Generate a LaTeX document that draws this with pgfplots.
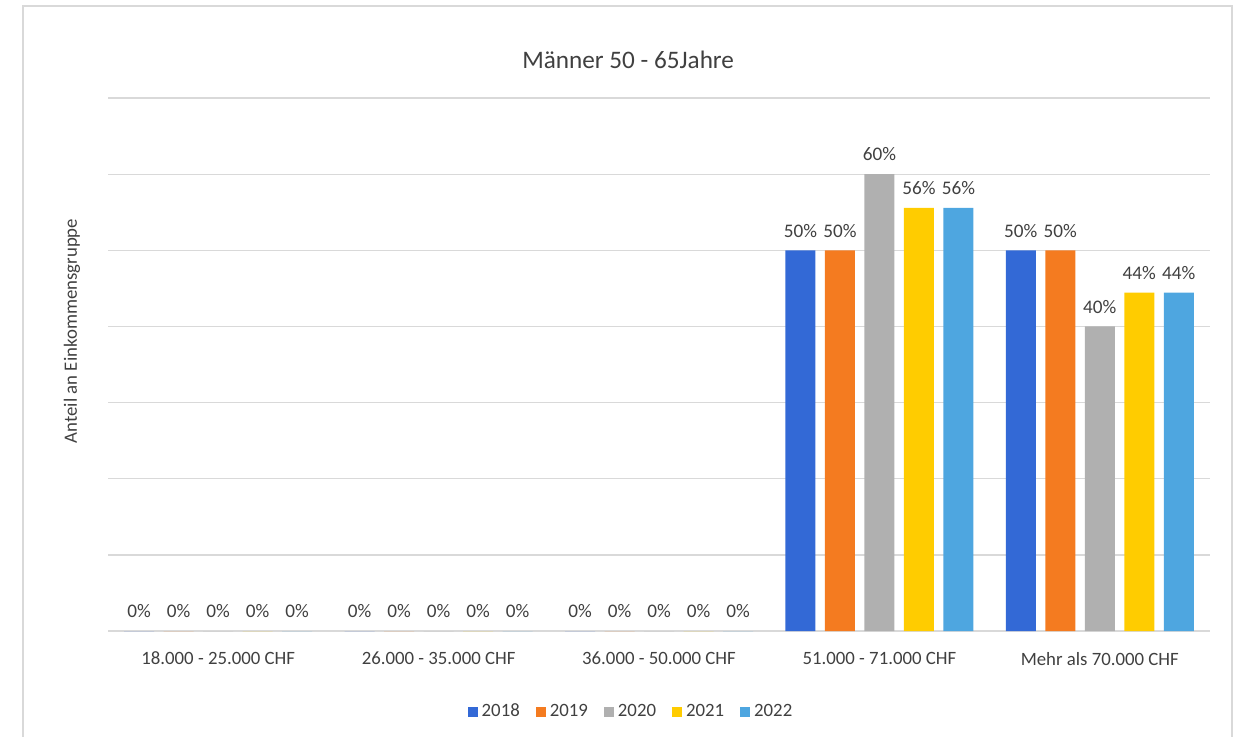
\documentclass[border=0pt]{standalone}
\usepackage{pgfplots}
\pgfplotsset{compat=1.18}
\usepackage{fontspec}
\setmainfont{Carlito}
\definecolor{c18}{HTML}{3369D6}
\definecolor{c19}{HTML}{F47B20}
\definecolor{c20}{HTML}{B0B0B0}
\definecolor{c21}{HTML}{FFCC00}
\definecolor{c22}{HTML}{4EA6E0}
\definecolor{txt}{HTML}{404040}
\definecolor{gridc}{HTML}{D9D9D9}
\begin{document}
\begin{tikzpicture}
\useasboundingbox (0,0) rectangle (617.5pt,368pt);
\draw[gridc, line width=0.75pt] (11.5pt,-5pt) rectangle (616pt,365pt);
\begin{axis}[
  at={(54pt,52.5pt)}, anchor=south west,
  scale only axis, width=551pt, height=266.5pt,
  ybar=4.75pt, bar width=15pt,
  xmin=-0.5, xmax=4.5, ymin=0, ymax=70,
  xtick={0,1,2,3,4},
  xticklabels={18.000 - 25.000 CHF, 26.000 - 35.000 CHF, 36.000 - 50.000 CHF, 51.000 - 71.000 CHF, Mehr als 70.000 CHF},
  ytick={0,10,...,70}, yticklabels={},
  major tick length=0pt,
  ymajorgrids, grid style={gridc, line width=0.65pt},
  axis line style={draw=none},
  font=\fontsize{9.4pt}{11pt}\selectfont,
  tick label style={text=txt},
  xticklabel style={yshift=-7pt},
  ylabel={Anteil an Einkommensgruppe},
  ylabel style={at={(rel axis cs:-0.0327,0.563)}, anchor=center, text=txt},
  clip=false,
  nodes near coords={\pgfmathprintnumber[assume math mode=true,fixed,precision=0]{\pgfplotspointmeta}\%},
  nodes near coords style={text=txt, font=\fontsize{9.6pt}{11pt}\selectfont, yshift=3pt},
  legend columns=5,
  legend style={draw=none, fill=none, at={(rel axis cs:0.4755,-0.152)}, anchor=center,
    font=\fontsize{9.4pt}{11pt}\selectfont, text=txt,
    /tikz/every even column/.append style={column sep=6pt}},
  legend image code/.code={\fill[#1] (0pt,-2.5pt) rectangle (5pt,2.5pt);},
]
\addplot[fill=c18, draw=none] coordinates {(0,0) (1,0) (2,0) (3,50) (4,50)};
\addplot[fill=c19, draw=none] coordinates {(0,0) (1,0) (2,0) (3,50) (4,50)};
\addplot[fill=c20, draw=none] coordinates {(0,0) (1,0) (2,0) (3,60) (4,40)};
\addplot[fill=c21, draw=none] coordinates {(0,0) (1,0) (2,0) (3,55.56) (4,44.44)};
\addplot[fill=c22, draw=none] coordinates {(0,0) (1,0) (2,0) (3,55.56) (4,44.44)};
\legend{2018,2019,2020,2021,2022}
\node[text=txt, font=\fontsize{12.6pt}{15pt}\selectfont] at (rel axis cs:0.472,1.071) {Männer 50 - 65Jahre};
\end{axis}
\end{tikzpicture}
\end{document}
